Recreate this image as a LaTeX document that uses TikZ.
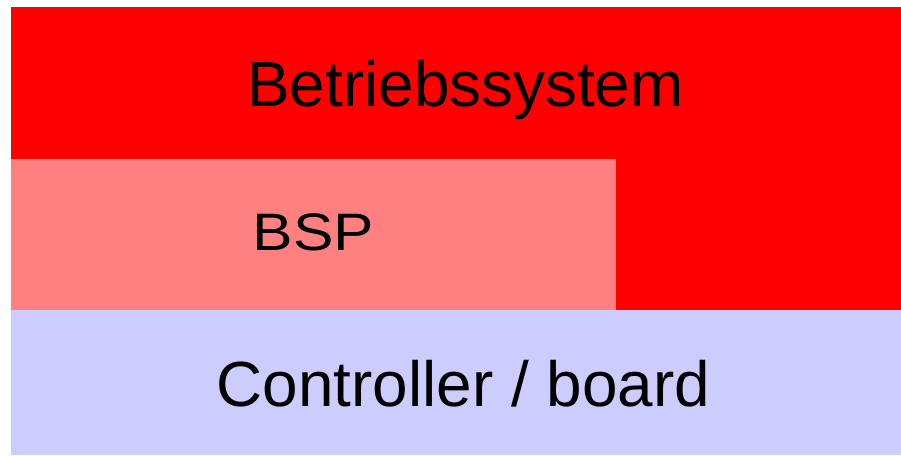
\documentclass[tikz,border=0pt]{standalone}
\usepackage{fontspec}
\setmainfont{Liberation Sans}
\usepackage{tikz}
\usetikzlibrary{positioning}
\definecolor{osred}{HTML}{FF0000}
\definecolor{bspred}{HTML}{FF8080}
\definecolor{boardblue}{HTML}{CCCCFF}
\tikzset{
  layer/.style={
    anchor=base,
    inner sep=0pt,
    font=\fontsize{45.4}{50}\selectfont
  }
}

\begin{document}
\begin{tikzpicture}[x=0.025cm, y=-0.025cm]
          \useasboundingbox (0,0) rectangle (901,455);
          \fill[osred] (11,7) rectangle (901,310);
          \fill[bspred] (11,159) rectangle (616,310);
          \fill[boardblue] (11,310) rectangle (901,455);

          \node[layer] (os) at (465.5,106) {Betriebssystem};
          \node[layer, font=\fontsize{37.5}{40}\selectfont] (bsp) at (313.5,250) {\scalebox{1.15}[1]{BSP}};
          \node[layer] (board) at (463.5,406) {Controller / board};
        \end{tikzpicture}
\end{document}
